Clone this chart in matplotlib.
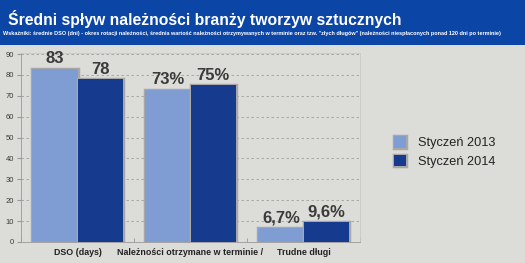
import matplotlib
matplotlib.use("Agg")
import matplotlib.pyplot as plt
import matplotlib.patheffects as pe
import numpy as np

categories = ["DSO (days)", "Należności otrzymane w terminie /", "Trudne długi"]
series_names = ["Styczeń 2013", "Styczeń 2014"]
values_2013 = [83, 73, 6.7]
values_2014 = [78, 75, 9.6]
labels_2013 = ["83", "73%", "6,7%"]
labels_2014 = ["78", "75%", "9,6%"]
y_ticks = [0, 10, 20, 30, 40, 50, 60, 70, 80, 90]

title = "Średni spływ należności branży tworzyw sztucznych"
subtitle = ("Wskaźniki: średnie DSO (dni) - okres rotacji należności, średnia wartość należności "
            "otrzymywanych w terminie oraz tzw. \"złych długów\" (należności niespłaconych ponad 120 dni po terminie)")

plt.rcParams['font.family'] = ['Liberation Sans', 'DejaVu Sans']

BG = "#dcdcd9"
HEADER = "#0b45a6"
LIGHT = "#7f9dd2"
DARK = "#153a8e"
TXT = "#3a3a3a"

fig = plt.figure(figsize=(5.25, 2.63), dpi=100, facecolor=BG)
fig.patches.append(plt.Rectangle((0, 1 - 45/263), 1, 45/263, transform=fig.transFigure,
                                 facecolor=HEADER, edgecolor="none", zorder=0))
fig.text(8/525, 1 - 19/263, title, color="white", fontsize=11.3, fontweight="bold",
         va="center", ha="left")
fig.text(3/525, 1 - 34/263, subtitle, color="white", fontsize=4.0, fontweight="bold",
         va="center", ha="left")

ax = fig.add_axes([21/525, 1 - 242/263, (360 - 21)/525, (242 - 53)/263])
ax.set_facecolor(BG)
x = np.arange(len(categories))
w = 0.4
stroke = [pe.withStroke(linewidth=2.5, foreground="#a8a8a8")]
b1 = ax.bar(x - w/2, values_2013, w, color=LIGHT, label=series_names[0], zorder=3,
            path_effects=stroke)
b2 = ax.bar(x + w/2, values_2014, w, color=DARK, label=series_names[1], zorder=3,
            path_effects=stroke)
for i in range(len(categories)):
    ax.text(x[i] - w/2, values_2013[i] + 1.2, labels_2013[i], ha="center", va="bottom",
            fontsize=12, fontweight="bold", color=TXT, zorder=4)
    ax.text(x[i] + w/2, values_2014[i] + 1.2, labels_2014[i], ha="center", va="bottom",
            fontsize=12, fontweight="bold", color=TXT, zorder=4)

ax.set_xlim(-0.5, len(categories) - 0.5)
ax.set_ylim(0, 90.5)
ax.set_yticks(y_ticks)
ax.set_yticklabels([str(t) for t in y_ticks], fontsize=5.5, color=TXT)
ax.yaxis.grid(True, linestyle=(0, (3, 3)), color="#a0a0a0", linewidth=0.6, zorder=0)
ax.set_xticks(x)
ax.set_xticklabels(categories, fontsize=6.4, fontweight="bold", color="#222222")
ax.tick_params(axis="x", length=0, pad=4)
ax.set_xticks(np.arange(len(categories) + 1) - 0.5, minor=True)
ax.tick_params(axis="x", which="minor", length=3, color="#999999", direction="in")
ax.tick_params(axis="y", length=3, color="#999999", pad=2)
for s in ["top", "right"]:
    ax.spines[s].set_color("#c8c8c8")
    ax.spines[s].set_linewidth(0.6)
for s in ["left", "bottom"]:
    ax.spines[s].set_color("#999999")
    ax.spines[s].set_linewidth(0.6)

leg = fig.legend(handles=[b1, b2], labels=series_names, loc="center left",
                 bbox_to_anchor=(382/525, 1 - 152/263), frameon=False, fontsize=9.2,
                 handlelength=1.0, handleheight=1.0, handletextpad=0.9, labelspacing=0.4)
for t in leg.get_texts():
    t.set_color("#222222")

fig.savefig("out.png", dpi=100, facecolor=BG)
